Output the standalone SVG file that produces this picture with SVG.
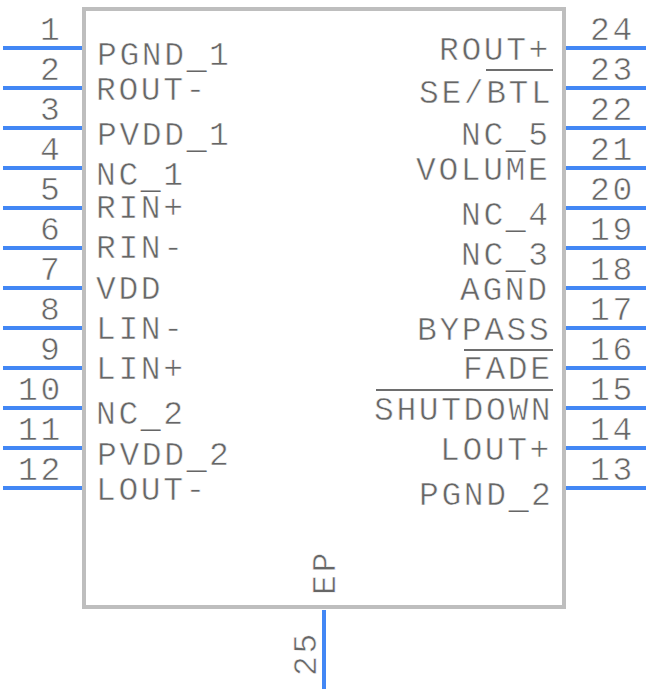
<svg xmlns="http://www.w3.org/2000/svg" width="648" height="692" viewBox="0 0 648 692">
<style>
text{font-family:"Liberation Mono",monospace;font-size:33px;fill:#666;letter-spacing:2.6px;stroke:#fff;stroke-width:.55px}
.u{stroke:none}
.p{stroke:#4287f5;stroke-width:4;fill:none}
.o{stroke:#6e6e6e;stroke-width:2;fill:none}
</style>
<rect width="648" height="692" fill="#fff"/>
<g id="body"><rect x="84" y="9" width="480" height="598" fill="none" stroke="#bebebe" stroke-width="4"/></g>
<g id="connectors">
<path class="p" d="M3 48H82M3 88H82M3 128H82M3 168H82M3 208H82M3 248H82M3 288H82M3 328H82M3 368H82M3 408H82M3 448H82M3 488H82"/>
<path class="p" d="M566 48H646M566 88H646M566 128H646M566 168H646M566 208H646M566 248H646M566 288H646M566 328H646M566 368H646M566 408H646M566 448H646M566 488H646"/>
<path class="p" d="M324 610V689"/>
</g>
<g id="pin-numbers">
<text x="40" y="40">1</text><text x="40" y="80">2</text><text x="40" y="120">3</text><text x="40" y="160">4</text><text x="40" y="200">5</text><text x="40" y="240">6</text><text x="40" y="280">7</text><text x="40" y="320">8</text><text x="40" y="360">9</text><text x="18" y="400">10</text><text x="18" y="440">11</text><text x="18" y="480">12</text>
<text x="590" y="40">24</text><text x="590" y="80">23</text><text x="590" y="120">22</text><text x="590" y="160">21</text><text x="590" y="200">20</text><text x="590" y="240">19</text><text x="590" y="280">18</text><text x="590" y="320">17</text><text x="590" y="360">16</text><text x="590" y="400">15</text><text x="590" y="440">14</text><text x="590" y="480">13</text>
<text transform="translate(316 676) rotate(-90)">25</text>
</g>
<g id="left-labels">
<text x="97" y="65">PGND<tspan class="u" dy="3">_</tspan><tspan dy="-3">1</tspan></text><text x="96" y="100">ROUT-</text><text x="97" y="145">PVDD<tspan class="u" dy="3">_</tspan><tspan dy="-3">1</tspan></text><text x="96" y="185">NC<tspan class="u" dy="3">_</tspan><tspan dy="-3">1</tspan></text><text x="96" y="218">RIN+</text><text x="96" y="258">RIN-</text><text x="96" y="299">VDD</text><text x="96" y="339">LIN-</text><text x="96" y="379">LIN+</text><text x="96" y="424">NC<tspan class="u" dy="3">_</tspan><tspan dy="-3">2</tspan></text><text x="97" y="465">PVDD<tspan class="u" dy="3">_</tspan><tspan dy="-3">2</tspan></text><text x="96" y="500">LOUT-</text>
</g>
<g id="right-labels">
<text x="439" y="60">ROUT+</text><text x="419" y="103">SE/BTL</text><text x="461" y="145">NC<tspan class="u" dy="3">_</tspan><tspan dy="-3">5</tspan></text><text x="416" y="180">VOLUME</text><text x="461" y="225">NC<tspan class="u" dy="3">_</tspan><tspan dy="-3">4</tspan></text><text x="461" y="265">NC<tspan class="u" dy="3">_</tspan><tspan dy="-3">3</tspan></text><text x="460" y="300">AGND</text><text x="417" y="340">BYPASS</text><text x="463" y="379">FADE</text><text x="374" y="420">SHUTDOWN</text><text x="440" y="460">LOUT+</text><text x="419" y="505">PGND<tspan class="u" dy="3">_</tspan><tspan dy="-3">2</tspan></text>
<text transform="translate(335 595) rotate(-90)">EP</text>
</g>
<g id="overlines"><path class="o" d="M486 70H553M464 350H553M376 390H553"/></g>
</svg>
